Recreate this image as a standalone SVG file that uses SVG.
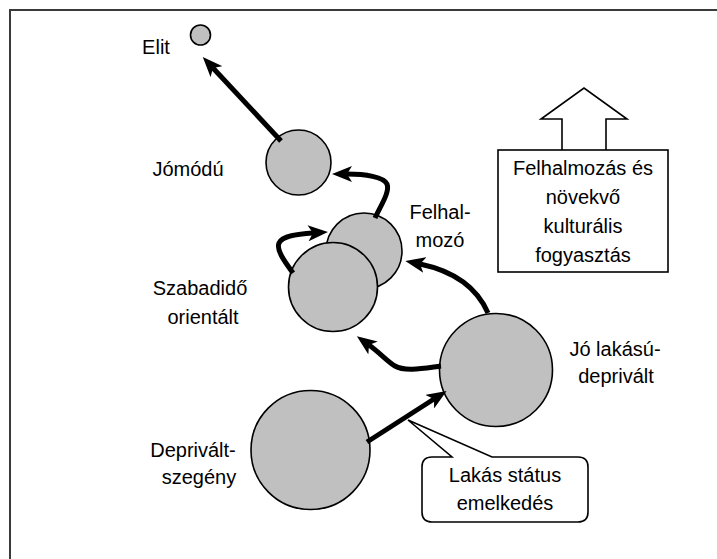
<svg xmlns="http://www.w3.org/2000/svg" width="717" height="559" viewBox="0 0 717 559">
<style>
.frame{fill:#fff;stroke:#3a3a3a;stroke-width:2}
.node{fill:#c0c0c0;stroke:#000;stroke-width:1.6}
.lbl{font-family:"Liberation Sans",Arial,sans-serif;font-size:20px;fill:#000;text-anchor:middle}
.con{fill:none;stroke:#000;stroke-width:5;stroke-linejoin:round}
.box{fill:#fff;stroke:#000;stroke-width:1.6}
</style>
<defs>
<marker id="ah" markerUnits="userSpaceOnUse" markerWidth="20" markerHeight="16" viewBox="0 0 20 16" refX="5" refY="8" orient="auto">
<path d="M0,0 L20,8 L0,16 L5,8 Z" fill="#000"/>
</marker>
</defs>
<rect class="frame" x="10" y="10" width="720" height="560"/>
<g id="elit">
<circle class="node" cx="200.5" cy="35" r="10"/>
<text class="lbl" x="156" y="54">Elit</text>
</g>
<g id="jomodu">
<circle class="node" cx="298.5" cy="162.5" r="32.5"/>
<text class="lbl" x="188" y="176">Jómódú</text>
</g>
<g id="felhalmozo">
<circle class="node" cx="364" cy="251" r="38"/>
<text class="lbl" x="440" y="219">Felhal-</text>
<text class="lbl" x="440" y="247">mozó</text>
</g>
<g id="szabadido">
<circle class="node" cx="333" cy="287" r="44.5"/>
<text class="lbl" x="200" y="295">Szabadidő</text>
<text class="lbl" x="203" y="324">orientált</text>
</g>
<g id="jolakasu">
<circle class="node" cx="496" cy="370" r="56.5"/>
<text class="lbl" x="615" y="356">Jó lakású-</text>
<text class="lbl" x="616" y="383">deprivált</text>
</g>
<g id="deprivalt">
<circle class="node" cx="310.5" cy="450" r="59.5"/>
<text class="lbl" x="193" y="457">Deprivált-</text>
<text class="lbl" x="199" y="484">szegény</text>
</g>
<g id="felhalmozas">
<path class="box" d="M562,150 L562,119 L541,119 L584,88 L627,119 L606,119 L606,150"/>
<rect class="box" x="498" y="150" width="170" height="122"/>
<text class="lbl" x="583" y="175">Felhalmozás és</text>
<text class="lbl" x="583" y="204">növekvő</text>
<text class="lbl" x="583" y="233">kulturális</text>
<text class="lbl" x="583" y="262">fogyasztás</text>
</g>
<g id="connectors">
<path class="con" marker-end="url(#ah)" d="M281,141 L213,68"/>
<path class="con" marker-end="url(#ah)" d="M375,218 C381,205 390,192 387,184 C384,177 365,174 347,174"/>
<path class="con" marker-end="url(#ah)" d="M293,273 C285,262 276,250 279,243 C282,236 298,234 313,233"/>
<path class="con" marker-end="url(#ah)" d="M488,313 C478,290 458,272 420,264"/>
<path class="con" marker-end="url(#ah)" d="M441,366 C425,368 405,372 395,366 C388,362 380,353 369,345"/>
<path class="con" marker-end="url(#ah)" d="M367,442 L434,399"/>
</g>
<g id="lakas">
<path class="box" d="M432,457 L452,457 L408,420 L492,457 L578,457 Q588,457 588,467 L588,512 Q588,522 578,522 L432,522 Q422,522 422,512 L422,467 Q422,457 432,457 Z"/>
<text class="lbl" x="505" y="482">Lakás státus</text>
<text class="lbl" x="505" y="510">emelkedés</text>
</g>
</svg>
